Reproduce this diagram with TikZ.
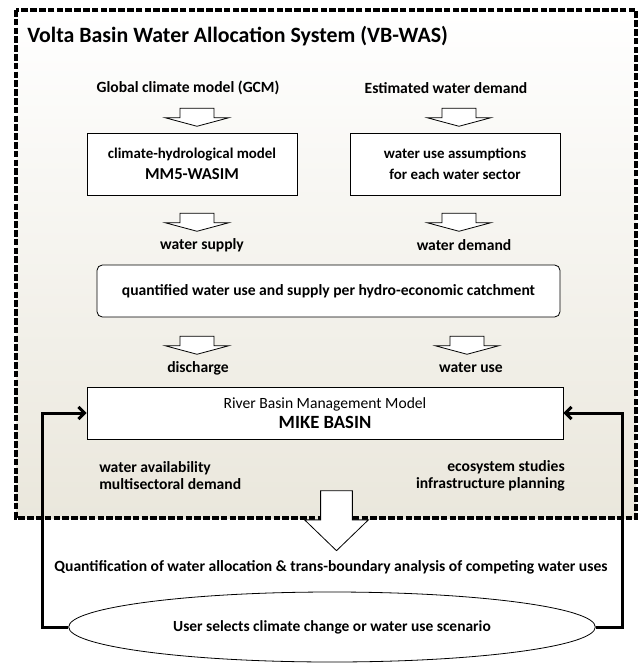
\documentclass[tikz,border=0pt]{standalone}
\usepackage{fontspec}
\setmainfont{Carlito}
\usetikzlibrary{shapes.geometric,shapes.arrows,arrows.meta}
\definecolor{basinbeige}{RGB}{234,231,220}

\begin{document}
\begin{tikzpicture}[x=0.75pt,y=-0.75pt]
\tikzstyle{frame}=[draw, line width=2.4pt, dash pattern=on 5pt off 1.6pt, top color=white, bottom color=basinbeige]
\tikzstyle{label}=[inner sep=0pt, font=\bfseries\fontsize{11.7}{12.75}\selectfont]
\tikzstyle{model}=[draw, rectangle, fill=white, line width=0.6pt, minimum width=157.5pt, minimum height=46.5pt, align=center, font=\bfseries\fontsize{11.2}{15.5}\selectfont]
\tikzstyle{catchment}=[model, rounded corners=4pt, minimum width=347.25pt, minimum height=39pt, font=\bfseries\fontsize{11.7}{14}\selectfont]
\tikzstyle{basin}=[model, minimum width=357pt, minimum height=39pt, font=\fontsize{11.7}{15}\selectfont]
\tikzstyle{flow}=[single arrow, draw, fill=white, line width=0.6pt, inner xsep=0pt, inner ysep=12.4pt, rotate=-90, minimum height=13.5pt, single arrow head extend=10.9pt, single arrow tip angle=150]
\tikzstyle{bigflow}=[flow, inner ysep=11.6pt, minimum height=45pt, single arrow head extend=12pt, single arrow tip angle=92]
\tikzstyle{scenario}=[draw, ellipse, fill=white, line width=0.6pt, minimum width=395pt, minimum height=52.5pt, font=\bfseries\fontsize{11.6}{12}\selectfont]
\tikzstyle{feedback}=[draw, line width=2.25pt, -{Straight Barb[length=4.5pt,width=9pt]}]

\useasboundingbox (0,0) rectangle (640,663);

% Background frame
\draw[frame] (16,10) rectangle (636,518);
\node[anchor=west, inner sep=0pt, font=\bfseries\fontsize{16.4}{18}\selectfont] (title) at (27,36) {Volta Basin Water Allocation System (VB-WAS)};

% Inputs
\node[label] (gcm) at (188,88) {Global climate model (GCM)};
\node[label] (estimate) at (446,88) {Estimated water demand};
\node[flow] (arr1) at (197,115) {};
\node[flow] (arr2) at (459,115) {};

% Models
\node[model] (wasim) at (192,164) {climate-hydrological model\\{\fontsize{12.5}{15.5}\selectfont MM5-WASIM}};
\node[model] (assume) at (455,164) {water use assumptions\\for each water sector};
\node[flow] (arr3) at (197,220) {};
\node[flow] (arr4) at (459,220) {};
\node[label] (supply) at (202,245) {water supply};
\node[label] (demand) at (464,245) {water demand};

% Catchment
\node[catchment] (catch) at (328.5,291) {quantified water use and supply per hydro-economic catchment};
\node[flow] (arr5) at (197,343) {};
\node[flow] (arr6) at (467,343) {};
\node[label] (discharge) at (198,368) {discharge};
\node[label] (wateruse) at (471,368) {water use};

% Basin model
\node[basin] (mike) at (325,413) {River Basin Management Model\\{\bfseries\fontsize{14}{15}\selectfont MIKE BASIN}};
\node[label, anchor=west, align=left] (avail) at (99,476) {water availability\\multisectoral demand};
\node[label, anchor=east, align=right] (ecosys) at (565,476) {ecosystem studies\\infrastructure planning};

% Output and scenario loop
\node[bigflow] (arr7) at (336.5,513) {};
\node[label] (quant) at (331,567) {Quantification of water allocation \& trans-boundary analysis of competing water uses};
\node[scenario] (scen) at (332,627) {User selects climate change or water use scenario};

\draw[feedback] (scen.west) -- ++(-26,0) |- (mike.west);
\draw[feedback] (scen.east) -- ++(27,0) |- (mike.east);
\end{tikzpicture}
\end{document}
